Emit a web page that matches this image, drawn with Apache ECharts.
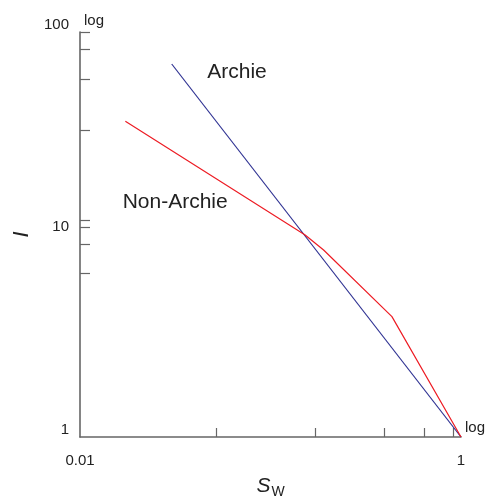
<!DOCTYPE html>
<html>
<head>
<meta charset="utf-8">
<script src="https://cdn.jsdelivr.net/npm/echarts@6/dist/echarts.min.js"></script>
<style>
html,body{margin:0;padding:0;background:#fff;}
#chart{width:489px;height:499px;}
</style>
</head>
<body>
<div id="chart"></div>
<script>
// Archie vs Non-Archie, log-log
var archie = [[0.0303, 69.5], [1, 1]];
var nonArchie = [[0.0173, 36.2], [0.152, 9.94], [0.19, 8.38], [0.434, 3.93], [1, 1]];
var xTicks = [0.052, 0.171, 0.395, 0.643, 0.906];
var yTicks = [100, 82, 58.6, 32.8, 11.8, 10.9, 8.97, 6.45];
var xLabels = [0.01, 1];
var yLabels = [1, 10, 100];

var font = 'Liberation Sans, Arial, sans-serif';
var chart = echarts.init(document.getElementById('chart'));
chart.setOption({
    animation: false,
    textStyle: {fontFamily: font},
    grid: {left: 80, right: 28, top: 32, bottom: 62, outerBoundsMode: 'none', containLabel: false},
    xAxis: {
        type: 'log',
        logBase: 10,
        min: 0.01,
        max: 1,
        name: '{s|S}{w|W}',
        nameLocation: 'middle',
        nameGap: 36,
        nameTextStyle: {
            rich: {
                s: {fontSize: 21, fontStyle: 'italic', color: '#222', fontFamily: font},
                w: {fontSize: 14, color: '#222', fontFamily: font, padding: [12, 0, 0, 1]}
            }
        },
        axisLine: {lineStyle: {color: '#666', width: 1.6}},
        axisTick: {show: true, inside: true, length: 9, customValues: xTicks, lineStyle: {color: '#666', width: 1.2}},
        axisLabel: {customValues: xLabels, margin: 16, fontSize: 15, color: '#222', formatter: function (v) { return String(v); }},
        splitLine: {show: false},
        minorTick: {show: false}
    },
    yAxis: {
        type: 'log',
        logBase: 10,
        min: 1,
        max: 100,
        name: 'I',
        nameLocation: 'middle',
        nameGap: 46,
        nameTextStyle: {fontSize: 22, fontStyle: 'italic', color: '#222', fontFamily: font},
        axisLine: {lineStyle: {color: '#666', width: 1.6}},
        axisTick: {show: true, inside: true, length: 10, customValues: yTicks, lineStyle: {color: '#666', width: 1.2}},
        axisLabel: {customValues: yLabels, margin: 11, fontSize: 15, color: '#222', verticalAlign: 'bottom', formatter: function (v) { return String(v); }},
        splitLine: {show: false},
        minorTick: {show: false}
    },
    series: [
        {
            name: 'Archie',
            type: 'line',
            data: archie,
            symbol: 'none',
            lineStyle: {color: '#2e3192', width: 1.2},
            markPoint: {
                symbolSize: 1,
                itemStyle: {color: 'rgba(0,0,0,0)'},
                label: {show: true, position: 'inside', fontSize: 21, color: '#222', fontFamily: font, formatter: 'Archie'},
                data: [{coord: [0.0667, 62.7]}]
            }
        },
        {
            name: 'Non-Archie',
            type: 'line',
            data: nonArchie,
            symbol: 'none',
            lineStyle: {color: '#ed1c24', width: 1.2},
            markPoint: {
                symbolSize: 1,
                itemStyle: {color: 'rgba(0,0,0,0)'},
                label: {show: true, position: 'inside', fontSize: 21, color: '#222', fontFamily: font, formatter: 'Non-Archie'},
                data: [{coord: [0.0316, 14.3]}]
            }
        }
    ],
    graphic: [
        {type: 'text', left: 84, top: 13, style: {text: 'log', fontSize: 15, fill: '#222', fontFamily: font}},
        {type: 'text', left: 465, top: 420, style: {text: 'log', fontSize: 15, fill: '#222', fontFamily: font}}
    ]
});
</script>
</body>
</html>
